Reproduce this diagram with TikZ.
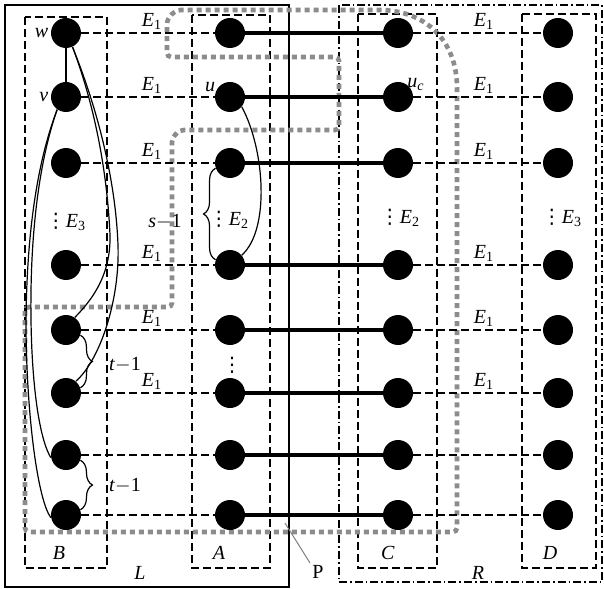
\documentclass[tikz,border=0pt]{standalone}
\usepackage{fontspec}
\setmainfont{Liberation Serif}
\newfontfamily\dotsfont{DejaVu Sans}
\usetikzlibrary{decorations.pathreplacing}

\newcommand{\Elab}[1]{\textit{E}\textsubscript{#1}}
\newcommand{\tightdots}{{\dotsfont ⋮}}

\begin{document}
\begin{tikzpicture}[
    x=0.5pt, y=-0.5pt,
    vertex/.style={circle, fill=black, inner sep=0pt, minimum size=15pt},
    pairline/.style={line width=2pt},
    gridline/.style={line width=0.6pt, dash pattern=on 4pt off 2pt},
    groupbox/.style={line width=0.6pt, dash pattern=on 4pt off 2pt},
    sidebox/.style={line width=0.8pt},
    regionbox/.style={line width=0.8pt, dash pattern=on 4pt off 1.5pt on 0.8pt off 1.5pt},
    zoneline/.style={line width=2.3pt, black!45, dash pattern=on 2.5pt off 2pt},
    link/.style={line width=0.6pt},
    bracket/.style={line width=0.6pt, decorate, decoration={brace, amplitude=6pt}},
    tag/.style={inner sep=1pt}
]

\useasboundingbox (0,0) rectangle (604,588);

\draw[sidebox] (5,5) rectangle (289,587);
\draw[regionbox] (339,5) rectangle (602,582);
\draw[groupbox] (25,17) rectangle (107,568);
\draw[groupbox] (192,15) rectangle (270,568);
\draw[groupbox] (358,14) rectangle (437,568);
\draw[groupbox] (522,14) rectangle (596,568);

\draw[zoneline, rounded corners=2pt] (25,307) -- (25,532) -- (457,532) -- (457,92)
    .. controls (457,40) and (425,10) .. (375,10) -- (185,10)
    .. controls (174,10) and (167,18) .. (167,28) -- (167,57) -- (339,57) -- (339,130)
    -- (180,130) -- (172,138) -- (172,307) -- cycle;

\foreach \i/\y in {1/33,2/97,3/163,4/265,5/330,6/393,7/455,8/515} {
    \node[vertex] (B\i) at (66,\y) {};
    \node[vertex] (A\i) at (230,\y) {};
    \node[vertex] (C\i) at (398,\y) {};
    \node[vertex] (D\i) at (558,\y) {};
    \draw[gridline] (B\i) -- (A\i);
    \draw[pairline] (A\i) -- (C\i);
    \draw[gridline] (C\i) -- (D\i);
}

\foreach \i/\y in {1/33,2/97,3/163,4/265,5/330,6/393} {
    \node[tag] (eleft\i) at (152,\y-12) {\Elab{1}};
    \node[tag] (eright\i) at (484,\y-12) {\Elab{1}};
}

\node[tag, anchor=east] (wlab) at (B1.west) {\textit{w}};
\node[tag, anchor=east] (vlab) at (B2.west) {\textit{v}};
\node[tag, anchor=south east, inner sep=0pt] (ulab) at (A2.160) {\textit{u}};
\node[tag] (uclab) at (416,84) {\textit{u}\textsubscript{\textit{c}}};

\draw[link] (B1) -- (B2);
\draw[link] (B1.-65) .. controls (100,120) and (108,190) .. (110,235)
    .. controls (111,275) and (92,300) .. (B5.55);
\draw[link] (B1.-65) .. controls (102,120) and (116,190) .. (118,245)
    .. controls (120,300) and (100,360) .. (B6.50);
\draw[link] (B2.235) .. controls (36,170) and (30,250) .. (31,320)
    .. controls (32,390) and (40,440) .. (B7.190);
\draw[link] (B2.235) .. controls (34,170) and (26,250) .. (26,330)
    .. controls (27,420) and (38,500) .. (B8.190);
\draw[link] (A2.-40) .. controls (265,150) and (270,230) .. (A4.40);

\draw[bracket] (B5.-20) -- (B6.20);
\draw[bracket] (B7.-20) -- (B8.20);
\draw[bracket] (A4.160) -- (A3.200);

\node[tag] (tlab1) at (125,365) {\textit{t}$-$1};
\node[tag] (tlab2) at (125,486) {\textit{t}$-$1};
\node[tag] (slab) at (165,222) {\textit{s}$-$1};

\node[tag] (dotsB) at (66,222) {\tightdots\Elab{3}};
\node[tag] (dotsA) at (229,220) {\tightdots\Elab{2}};
\node[tag] (dotsC) at (400,218) {\tightdots\Elab{2}};
\node[tag] (dotsD) at (562,218) {\tightdots\Elab{3}};
\node[tag] (dotsAlow) at (232,365) {\tightdots};

\node[tag] (blab) at (59,553) {\textit{B}};
\node[tag] (alab) at (219,553) {\textit{A}};
\node[tag] (clab) at (388,553) {\textit{C}};
\node[tag] (dlab) at (550,553) {\textit{D}};
\node[tag] (llab) at (140,573) {\textit{L}};
\node[tag] (rlab) at (478,573) {\textit{R}};
\node[tag] (plab) at (318,572) {P};

\coordinate (pend) at (285,523);
\draw[black!50, line width=0.5pt] (pend) -- (plab.north west);

\end{tikzpicture}
\end{document}
